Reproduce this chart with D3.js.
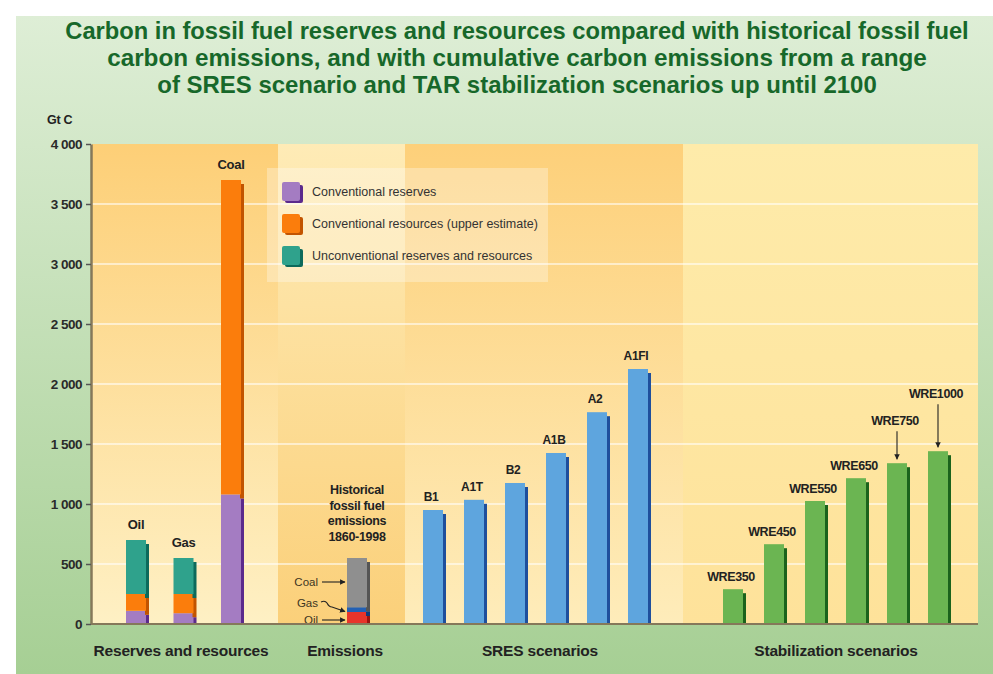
<!DOCTYPE html>
<html>
<head>
<meta charset="utf-8">
<script src="https://cdn.jsdelivr.net/npm/d3@7"></script>
<style>
  body { margin: 0; background: #fff; }
  svg { display: block; font-family: "Liberation Sans", Arial, sans-serif; }
</style>
</head>
<body>
<svg></svg>
<script>
const width = 993;
const height = 674;

// data (Gt C)
const reserveCats = ["Oil", "Gas", "Coal"];
const convReserves = [110, 90, 1080];
const convResources = [140, 160, 2620];
const unconvResources = [450, 300, 0];

const emissionFuels = ["Oil", "Gas", "Coal"];
const emissionValues = [100, 40, 410];

const sresCats = ["B1", "A1T", "B2", "A1B", "A2", "A1FI"];
const sresValues = [950, 1035, 1175, 1425, 1765, 2125];

const stabCats = ["WRE350", "WRE450", "WRE550", "WRE650", "WRE750", "WRE1000"];
const stabValues = [290, 665, 1025, 1215, 1340, 1440];

const yTicks = [0, 500, 1000, 1500, 2000, 2500, 3000, 3500, 4000];
const legendLabels = ["Conventional reserves", "Conventional resources (upper estimate)", "Unconventional reserves and resources"];
const titleLines = [
    "Carbon in fossil fuel reserves and resources compared with historical fossil fuel",
    "carbon emissions, and with cumulative carbon emissions from a range",
    "of SRES scenario and TAR stabilization scenarios up until 2100"
];

const base = 624;
const plotTop = 144;
const faceW = 20;
const sideW = 4;

let svg = d3.select("svg")
    .attr("width", width)
    .attr("height", height)

let defs = svg.append("defs");
function vGrad(id, c0, c1) {
    let g = defs.append("linearGradient").attr("id", id)
        .attr("x1", 0).attr("y1", 0).attr("x2", 0).attr("y2", 1);
    g.append("stop").attr("offset", "0%").attr("stop-color", c0);
    g.append("stop").attr("offset", "100%").attr("stop-color", c1);
}
vGrad("bg", "#deeed6", "#a6cf94");
vGrad("p1", "#fdcf77", "#fef0c4");
vGrad("p2", "#feebb6", "#fbd07a");
vGrad("p3", "#fdd07a", "#feecba");
vGrad("p4", "#feebaa", "#fee29a");

defs.append("marker")
    .attr("id", "arrow")
    .attr("viewBox", "0 0 10 10")
    .attr("refX", 9).attr("refY", 5)
    .attr("markerWidth", 5).attr("markerHeight", 5)
    .attr("orient", "auto")
    .append("path")
    .attr("d", "M0,0 L10,5 L0,10 z")
    .attr("fill", "#222");

svg.append("rect")
    .attr("x", 16).attr("y", 16)
    .attr("width", width - 16).attr("height", height - 16)
    .attr("fill", "url(#bg)");

// title, squeezed horizontally to look condensed
const titleWidths = [904, 820, 720];
svg.append("g").selectAll("text")
    .data(titleLines)
    .join("text")
    .attr("text-anchor", "middle")
    .attr("font-weight", "bold")
    .attr("font-size", 23)
    .attr("fill", "#17682a")
    .text(d => d)
    .each(function (d, i) {
        let len = this.getComputedTextLength();
        d3.select(this).attr("transform",
            `translate(517, ${39 + i * 27}) scale(${titleWidths[i] / len}, 1)`);
    });

// panels
const panels = [
    { x0: 92, x1: 278, fill: "url(#p1)", label: "Reserves and resources" },
    { x0: 278, x1: 405, fill: "url(#p2)", label: "Emissions" },
    { x0: 405, x1: 683, fill: "url(#p3)", label: "SRES scenarios" },
    { x0: 683, x1: 978, fill: "url(#p4)", label: "Stabilization scenarios" }
];

let y = d3.scaleLinear()
    .domain([0, 4000])
    .range([base, plotTop]);

svg.append("g").selectAll("rect")
    .data(panels)
    .join("rect")
    .attr("x", d => d.x0)
    .attr("y", plotTop)
    .attr("width", d => d.x1 - d.x0)
    .attr("height", base - plotTop)
    .attr("fill", d => d.fill);

// gridlines
svg.append("g").selectAll("line")
    .data(yTicks.filter(d => d > 0 && d < 4000))
    .join("line")
    .attr("x1", 92).attr("x2", 978)
    .attr("y1", d => y(d)).attr("y2", d => y(d))
    .attr("stroke", "#fff")
    .attr("stroke-opacity", 0.55)
    .attr("stroke-width", 2);

// legend box
let legend = svg.append("g");
legend.append("rect")
    .attr("x", 267).attr("y", 168)
    .attr("width", 281).attr("height", 114)
    .attr("fill", "#fff")
    .attr("fill-opacity", 0.3);

const reserveColors = [
    { face: "#a47cc2", side: "#5b2a8c" },
    { face: "#fb7d0c", side: "#c25400" },
    { face: "#2fa28c", side: "#0d6a5b" }
];

let legendRows = legend.selectAll("g")
    .data(legendLabels)
    .join("g")
    .attr("transform", (d, i) => `translate(282, ${182 + i * 32})`);
legendRows.append("rect")
    .attr("x", 3).attr("y", 3).attr("width", 18).attr("height", 18)
    .attr("rx", 2)
    .attr("fill", (d, i) => reserveColors[i].side);
legendRows.append("rect")
    .attr("width", 18).attr("height", 19)
    .attr("rx", 2)
    .attr("fill", (d, i) => reserveColors[i].face);
legendRows.append("text")
    .attr("x", 30).attr("y", 14)
    .attr("font-size", 12.5)
    .attr("fill", "#333")
    .text(d => d);

function bar(g, cx, v0, v1, face, side) {
    g.append("rect")
        .attr("x", cx + faceW / 2 - 1)
        .attr("y", Math.min(y(v1) + 4, base))
        .attr("width", sideW)
        .attr("height", Math.max(0, Math.min(y(v0) + 4, base) - Math.min(y(v1) + 4, base)))
        .attr("fill", side);
    g.append("rect")
        .attr("x", cx - faceW / 2)
        .attr("y", y(v1))
        .attr("width", faceW)
        .attr("height", y(v0) - y(v1))
        .attr("fill", face);
}

// reserves and resources
let resTable = reserveCats.map((c, i) => ({
    cat: c, reserves: convReserves[i], resources: convResources[i], unconv: unconvResources[i]
}));
let stack = d3.stack().keys(["reserves", "resources", "unconv"])(resTable);
let xRes = d3.scalePoint().domain(reserveCats).range([136, 231]);
let gRes = svg.append("g");
stack.forEach((layer, k) => {
    layer.forEach(seg => {
        if (seg[1] > seg[0]) {
            bar(gRes, xRes(seg.data.cat), seg[0], seg[1], reserveColors[k].face, reserveColors[k].side);
        }
    });
});
gRes.selectAll("text")
    .data(resTable)
    .join("text")
    .attr("x", d => xRes(d.cat))
    .attr("y", d => y(d.reserves + d.resources + d.unconv) - 11)
    .attr("text-anchor", "middle")
    .attr("font-size", 13)
    .attr("font-weight", "bold")
    .attr("letter-spacing", -0.3)
    .attr("fill", "#222")
    .text(d => d.cat);

// historical emissions
const emissionColors = [
    { face: "#e8342b", side: "#9a1510" },
    { face: "#2360b4", side: "#123c7a" },
    { face: "#8f8f8f", side: "#555" }
];
let emX = 357;
let gEm = svg.append("g");
let cum = 0;
emissionValues.forEach((v, i) => {
    bar(gEm, emX, cum, cum + v, emissionColors[i].face, emissionColors[i].side);
    cum += v;
});
gEm.selectAll("text.head")
    .data(["Historical", "fossil fuel", "emissions", "1860-1998"])
    .join("text")
    .attr("class", "head")
    .attr("x", emX)
    .attr("y", (d, i) => 494 + i * 15.5)
    .attr("text-anchor", "middle")
    .attr("font-size", 12.5)
    .attr("font-weight", "bold")
    .attr("letter-spacing", -0.3)
    .attr("fill", "#222")
    .text(d => d);
// fuel pointers
let mids = [];
cum = 0;
emissionValues.forEach(v => { mids.push(cum + v / 2); cum += v; });
const pointerY = [620, 603, 582];
gEm.selectAll("text.fuel")
    .data(emissionFuels)
    .join("text")
    .attr("class", "fuel")
    .attr("x", 318)
    .attr("y", (d, i) => pointerY[i] + 4)
    .attr("text-anchor", "end")
    .attr("font-size", 11.5)
    .attr("fill", "#3b3522")
    .text(d => d);
gEm.selectAll("path.fuel")
    .data(emissionFuels)
    .join("path")
    .attr("class", "fuel")
    .attr("d", (d, i) => {
        let ty = i === 1 ? y(mids[1]) + 2 : pointerY[i];
        if (i === 1) return `M321,${pointerY[i] - 1} q4,-2 6,1 q2,4 5,4 L${emX - 12},${ty}`;
        return `M322,${pointerY[i]} L${emX - 12},${ty}`;
    })
    .attr("fill", "none")
    .attr("stroke", "#222")
    .attr("stroke-width", 1.1)
    .attr("marker-end", "url(#arrow)");

// SRES scenarios
let xSres = d3.scalePoint().domain(sresCats).range([433, 638]);
let gSres = svg.append("g");
sresCats.forEach((c, i) => bar(gSres, xSres(c), 0, sresValues[i], "#5ea5de", "#1f4f9c"));
gSres.selectAll("text")
    .data(sresCats)
    .join("text")
    .attr("x", d => xSres(d) - 2)
    .attr("y", (d, i) => y(sresValues[i]) - 9)
    .attr("text-anchor", "middle")
    .attr("font-size", 12)
    .attr("font-weight", "bold")
    .attr("letter-spacing", -0.3)
    .attr("fill", "#222")
    .text(d => d);

// stabilization scenarios
let xStab = d3.scalePoint().domain(stabCats).range([733, 938]);
let gStab = svg.append("g");
stabCats.forEach((c, i) => bar(gStab, xStab(c), 0, stabValues[i], "#6bb552", "#1b631c"));
const arrowed = { WRE750: 30, WRE1000: 45 };
gStab.selectAll("text")
    .data(stabCats)
    .join("text")
    .attr("x", d => xStab(d) - 2)
    .attr("y", (d, i) => y(stabValues[i]) - 8 - (arrowed[d] || 0))
    .attr("text-anchor", "middle")
    .attr("font-size", 12.5)
    .attr("font-weight", "bold")
    .attr("letter-spacing", -0.4)
    .attr("fill", "#222")
    .text(d => d);
gStab.selectAll("line")
    .data(stabCats.filter(d => arrowed[d]))
    .join("line")
    .attr("x1", d => xStab(d)).attr("x2", d => xStab(d))
    .attr("y1", d => y(stabValues[stabCats.indexOf(d)]) - arrowed[d] - 2)
    .attr("y2", d => y(stabValues[stabCats.indexOf(d)]) - 4)
    .attr("stroke", "#222")
    .attr("stroke-width", 1.1)
    .attr("marker-end", "url(#arrow)");

// baseline
svg.append("line")
    .attr("x1", 91).attr("x2", 978)
    .attr("y1", base).attr("y2", base)
    .attr("stroke", "#85785a")
    .attr("stroke-width", 2);

// y axis
let fmt = d3.format(",");
let axis = svg.append("g")
    .attr("transform", "translate(91, 0)")
    .call(d3.axisLeft(y).tickValues(yTicks).tickSize(5).tickSizeOuter(0)
        .tickFormat(d => fmt(d).replace(",", " ")));
axis.select(".domain").attr("stroke", "#85785a").attr("stroke-width", 2.5);
axis.selectAll(".tick line").attr("stroke", "#555").attr("stroke-width", 1.5);
axis.selectAll(".tick text")
    .attr("x", -9)
    .attr("font-size", 13.5)
    .attr("font-weight", "bold")
    .attr("letter-spacing", -0.5)
    .attr("fill", "#2a2a2a");

svg.append("text")
    .attr("x", 47).attr("y", 124)
    .attr("font-size", 12.5)
    .attr("font-weight", "bold")
    .attr("letter-spacing", -0.3)
    .attr("fill", "#222")
    .text("Gt C");

// group labels
svg.append("g").selectAll("text")
    .data(panels)
    .join("text")
    .attr("x", (d, i) => [181, 345, 540, 836][i])
    .attr("y", 656)
    .attr("text-anchor", "middle")
    .attr("font-size", 15.5)
    .attr("font-weight", "bold")
    .attr("letter-spacing", -0.2)
    .attr("fill", "#222")
    .text(d => d.label);
</script>
</body>
</html>
